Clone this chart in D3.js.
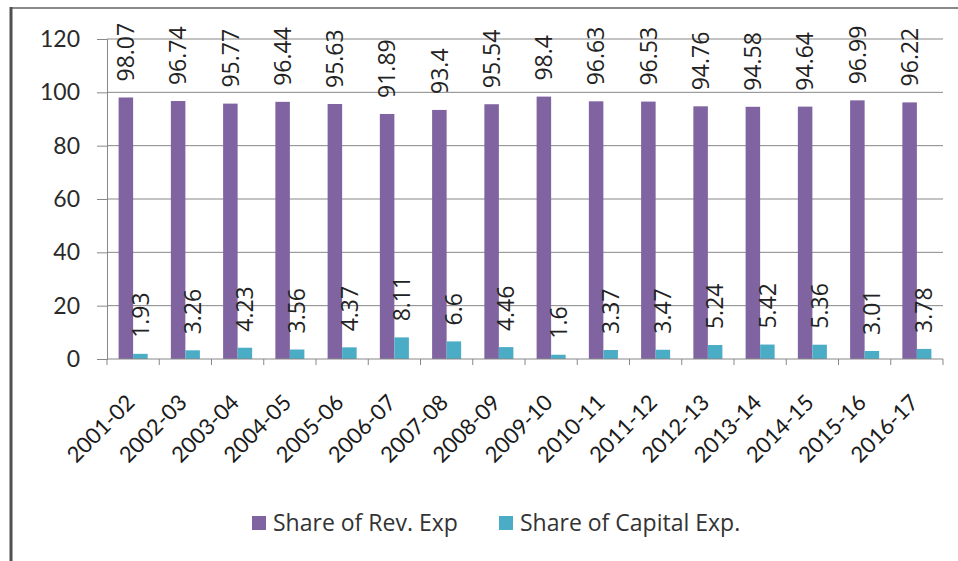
<!DOCTYPE html>
<html>
<head>
<meta charset="utf-8">
<script src="https://cdn.jsdelivr.net/npm/d3@7"></script>
<style>
    body { margin: 0; background: #fff; }
    text { fill: #1a1a1a; }
</style>
</head>
<body>
<div id="chart"></div>
<script>
// Chart data
var years = ["2001-02", "2002-03", "2003-04", "2004-05", "2005-06", "2006-07", "2007-08", "2008-09",
    "2009-10", "2010-11", "2011-12", "2012-13", "2013-14", "2014-15", "2015-16", "2016-17"];
var revExp = [98.07, 96.74, 95.77, 96.44, 95.63, 91.89, 93.4, 95.54, 98.4, 96.63, 96.53, 94.76, 94.58, 94.64, 96.99, 96.22];
var capExp = [1.93, 3.26, 4.23, 3.56, 4.37, 8.11, 6.6, 4.46, 1.6, 3.37, 3.47, 5.24, 5.42, 5.36, 3.01, 3.78];
var seriesNames = ["Share of Rev. Exp", "Share of Capital Exp."];
var yTicks = [0, 20, 40, 60, 80, 100, 120];

var colors = ["#8064A2", "#4BACC6"];

var AXIS_FONT = "Lato, sans-serif";
var LABEL_FONT = "'Open Sans', sans-serif";

var width = 958, height = 561;
var plot = { left: 107, right: 943, top: 39, bottom: 359 };

var svg = d3.select("#chart").append("svg")
    .attr("width", width)
    .attr("height", height);

svg.append("rect").attr("width", width).attr("height", height).attr("fill", "#fff");

// frame edges (only top and left visible in the original)
svg.append("line")
    .attr("x1", 10).attr("x2", width).attr("y1", 8).attr("y2", 8)
    .attr("stroke", "#8a8a8a").attr("stroke-width", 2);
svg.append("line")
    .attr("x1", 11).attr("x2", 11).attr("y1", 7).attr("y2", height)
    .attr("stroke", "#505050").attr("stroke-width", 3);

// Scales
var x = d3.scaleBand()
    .domain(years)
    .range([plot.left, plot.right])
    .paddingInner(0).paddingOuter(0);

var xs = d3.scaleBand()
    .domain([0, 1])
    .range([0, x.bandwidth()])
    .paddingInner(0).paddingOuter(0.8);

var y = d3.scaleLinear()
    .domain([0, 120])
    .range([plot.bottom, plot.top]);

// Gridlines
svg.append("g")
    .selectAll("line")
    .data(yTicks.filter(d => d > 0))
    .enter().append("line")
    .attr("x1", plot.left).attr("x2", plot.right)
    .attr("y1", d => y(d)).attr("y2", d => y(d))
    .attr("stroke", "#878787").attr("stroke-width", 1);

// Y axis
var yAxis = svg.append("g")
    .attr("transform", "translate(" + plot.left + ",0)")
    .call(d3.axisLeft(y).tickValues(yTicks).tickSize(10).tickPadding(17));
yAxis.select(".domain").attr("stroke", "#878787");
yAxis.selectAll(".tick line").attr("stroke", "#878787");
yAxis.selectAll(".tick text")
    .style("font-size", "23px")
    .style("font-family", AXIS_FONT)
    .style("fill", "#2a2a2a");

// Bars
var series = [revExp, capExp];
series.forEach((vals, si) => {
    svg.append("g")
        .selectAll("rect")
        .data(vals)
        .enter().append("rect")
        .attr("x", (d, i) => x(years[i]) + xs(si))
        .attr("y", d => y(d))
        .attr("width", xs.bandwidth())
        .attr("height", d => y(0) - y(d))
        .attr("fill", colors[si]);

    // Rotated data labels
    svg.append("g")
        .selectAll("text")
        .data(vals)
        .enter().append("text")
        .attr("transform", (d, i) => "translate(" + (x(years[i]) + xs(si) + xs.bandwidth() / 2) + "," + (y(d) - 16) + ") rotate(-90)")
        .attr("dy", "0.36em")
        .style("font-family", LABEL_FONT)
        .style("font-size", "23px")
        .style("fill", "#222")
        .text(d => d);
});

// X axis line and ticks
svg.append("line")
    .attr("x1", plot.left).attr("x2", plot.right)
    .attr("y1", plot.bottom).attr("y2", plot.bottom)
    .attr("stroke", "#878787");
svg.append("g")
    .selectAll("line")
    .data(years.concat(["end"]))
    .enter().append("line")
    .attr("x1", (d, i) => plot.left + i * x.step())
    .attr("x2", (d, i) => plot.left + i * x.step())
    .attr("y1", plot.bottom).attr("y2", plot.bottom + 6)
    .attr("stroke", "#878787");

// X labels at -45 degrees
svg.append("g")
    .selectAll("text")
    .data(years)
    .enter().append("text")
    .attr("transform", d => "translate(" + (x(d) + x.bandwidth() / 2 + 3) + "," + 404 + ") rotate(-45)")
    .attr("text-anchor", "end")
    .style("font-family", AXIS_FONT)
    .style("font-size", "22px")
    .text(d => d);

// Legend
var legendX = [252, 499];
var legend = svg.append("g")
    .selectAll("g")
    .data(seriesNames)
    .enter().append("g")
    .attr("transform", (d, i) => "translate(" + legendX[i] + ",516)");
legend.append("rect")
    .attr("width", 14).attr("height", 14)
    .attr("fill", (d, i) => colors[i]);
legend.append("text")
    .attr("x", 21).attr("y", 14.5)
    .style("font-family", LABEL_FONT)
    .style("font-size", "23px")
    .style("fill", "#333")
    .text(d => d);
</script>
</body>
</html>
